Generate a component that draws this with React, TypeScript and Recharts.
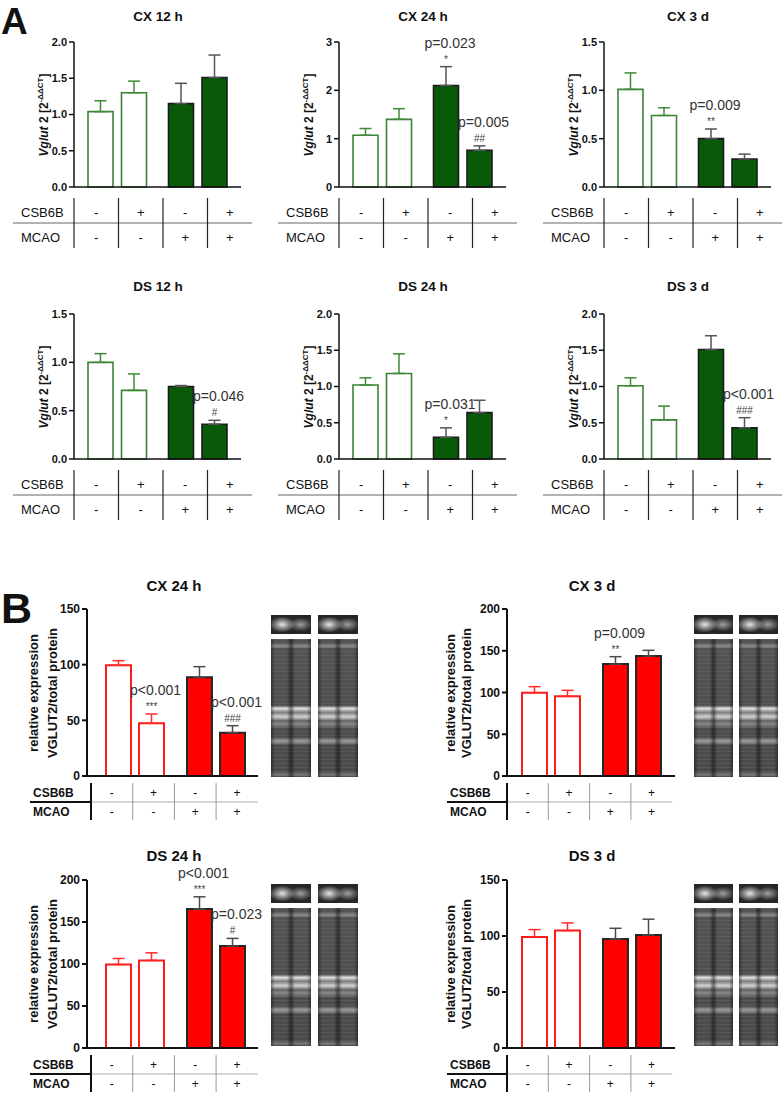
import React from "react";
import { BarChart, Bar, XAxis, YAxis, Cell, ErrorBar, LabelList } from "recharts";

const FONT = '"Liberation Sans", Arial, Helvetica, sans-serif';

// treatment table, in bar order
const csb6b = ["-", "+", "-", "+"];
const mcao = ["-", "-", "+", "+"];
const groups = ["sham", "MCAO"];

// A: Vglut2 mRNA [2^-ddCT], mean and SEM
const cx12Mean = [1.04, 1.3, 1.15, 1.51];
const cx12Sem = [0.15, 0.16, 0.28, 0.31];
const cx24Mean = [1.07, 1.4, 2.1, 0.76];
const cx24Sem = [0.14, 0.22, 0.39, 0.09];
const cx3dMean = [1.01, 0.74, 0.5, 0.29];
const cx3dSem = [0.17, 0.08, 0.1, 0.05];
const ds12Mean = [1.0, 0.71, 0.75, 0.36];
const ds12Sem = [0.09, 0.17, 0.01, 0.04];
const ds24Mean = [1.02, 1.18, 0.3, 0.64];
const ds24Sem = [0.1, 0.27, 0.13, 0.17];
const ds3dMean = [1.01, 0.54, 1.51, 0.43];
const ds3dSem = [0.11, 0.19, 0.19, 0.14];

// B: VGLUT2 / total protein, relative expression
const wbCx24Mean = [99.4, 47.3, 88.7, 38.9];
const wbCx24Sem = [4.2, 8.4, 9.5, 6.3];
const wbCx3dMean = [99.8, 95.4, 134, 143.7];
const wbCx3dSem = [7.2, 7.2, 8.9, 6.8];
const wbDs24Mean = [99.4, 104.2, 165.4, 121.3];
const wbDs24Sem = [7.2, 9.1, 14.6, 9.2];
const wbDs3dMean = [99.2, 104.8, 97.4, 101];
const wbDs3dSem = [6.5, 6.9, 9.5, 14];

// p values and marks
const noP = ["", "", "", ""];
const cx24P = ["", "", "p=0.023", "p=0.005"];
const cx24Sig = ["", "", "*", "##"];
const cx3dP = ["", "", "p=0.009", ""];
const cx3dSig = ["", "", "**", ""];
const ds12P = ["", "", "", "p=0.046"];
const ds12Sig = ["", "", "", "#"];
const ds24P = ["", "", "p=0.031", ""];
const ds24Sig = ["", "", "*", ""];
const ds3dP = ["", "", "", "p<0.001"];
const ds3dSig = ["", "", "", "###"];
const wbCx24P = ["", "p<0.001", "", "p<0.001"];
const wbCx24Sig = ["", "***", "", "###"];
const wbCx3dP = ["", "", "p=0.009", ""];
const wbCx3dSig = ["", "", "**", ""];
const wbDs24P = ["", "", "p<0.001", "p=0.023"];
const wbDs24Sig = ["", "", "***", "#"];

const ticksA15 = [0, 0.5, 1, 1.5];
const ticksA20 = [0, 0.5, 1, 1.5, 2];
const ticksA3 = [0, 1, 2, 3];
const ticksB150 = [0, 50, 100, 150];
const ticksB200 = [0, 50, 100, 150, 200];

const green = { open: "#3a8434", fill: "#085a08", edge: "#1c1c1c", errOpen: "#3f8a37", errFill: "#555", sw: 1.6, axis: 1.5 };
const red = { open: "#ff1a1a", fill: "#ff0000", edge: "#262626", errOpen: "#ff2a2a", errFill: "#4a4a4a", sw: 2, axis: 2 };

function makeRows(mean: number[], sem: number[]) {
  return groups.map((g, gi) => {
    const a = gi * 2;
    const b = gi * 2 + 1;
    const open = gi === 0;
    return {
      group: g,
      veh: mean[a],
      csb: mean[b],
      vehErrOpen: open ? [0, sem[a]] : null,
      vehErrFill: open ? null : [0, sem[a]],
      csbErrOpen: open ? [0, sem[b]] : null,
      csbErrFill: open ? null : [0, sem[b]],
    };
  });
}

function makeNote(k: number, mean: number[], sem: number[], pText: string[], sig: string[]) {
  return (props: any) => {
    const vb = props.viewBox && props.viewBox.height != null ? props.viewBox : props;
    const { x, y, width, height } = vb;
    const i = props.index * 2 + k;
    if (!pText[i] && !sig[i]) return null;
    const top = y - sem[i] * (height / mean[i]);
    const cx = x + width / 2;
    return (
      <g>
        <text x={cx + 4} y={top - 19} textAnchor="middle" fontSize={14} fill="#333" fontFamily={FONT}>
          {pText[i]}
        </text>
        <text x={cx} y={top - 4} textAnchor="middle" fontSize={10} fill="#444" fontFamily={FONT}>
          {sig[i]}
        </text>
      </g>
    );
  };
}

function MiniBar(props: any) {
  const { x0, yTop, yBottom, xLen, padL, padR, barSize, barGap, max, ticks, dec, mean, sem, pText, sig, theme, tickFont } = props;
  const LW = 40;
  const MT = 45;
  const MR = 34;
  const MB = 10;
  const XH = 2;
  const plotH = yBottom - yTop;
  const rows = makeRows(mean, sem);
  const axisStyle = { stroke: "#111", strokeWidth: theme.axis };
  return (
    <div style={{ position: "absolute", left: x0 - LW, top: yTop - MT }}>
      <BarChart
        width={LW + xLen + MR}
        height={MT + plotH + XH + MB}
        data={rows}
        margin={{ top: MT, right: MR, left: 0, bottom: MB }}
        barSize={barSize}
        barGap={barGap}
      >
        <XAxis dataKey="group" tick={false} tickLine={false} height={XH} padding={{ left: padL, right: padR }} axisLine={axisStyle} />
        <YAxis
          width={LW}
          domain={[0, max]}
          ticks={ticks}
          interval={0}
          tickSize={5}
          tickMargin={2}
          axisLine={axisStyle}
          tickLine={axisStyle}
          tickFormatter={(v: number) => v.toFixed(dec)}
          tick={{ fill: "#111", fontSize: tickFont, fontWeight: "bold", fontFamily: FONT }}
        />
        {["veh", "csb"].map((key, k) => (
          <Bar key={key} dataKey={key} isAnimationActive={false}>
            {rows.map((r, gi) => (
              <Cell
                key={gi}
                fill={gi === 0 ? "#ffffff" : theme.fill}
                stroke={gi === 0 ? theme.open : theme.edge}
                strokeWidth={theme.sw}
              />
            ))}
            <ErrorBar dataKey={`${key}ErrOpen`} direction="y" width={6} stroke={theme.errOpen} strokeWidth={1.5} isAnimationActive={false} />
            <ErrorBar dataKey={`${key}ErrFill`} direction="y" width={6} stroke={theme.errFill} strokeWidth={1.5} isAnimationActive={false} />
            <LabelList dataKey={key} content={makeNote(k, mean, sem, pText, sig)} />
          </Bar>
        ))}
      </BarChart>
    </div>
  );
}

function TableA({ x0, yb }: { x0: number; yb: number }) {
  const colW = 44.5;
  return (
    <g fontFamily={FONT} fontSize={13} fill="#111">
      <line x1={x0 - 61} x2={x0 + 178} y1={yb + 36} y2={yb + 36} stroke="#666" strokeWidth={1} />
      {[0, 1, 2, 3].map((i) => (
        <line key={i} x1={x0 + i * colW} x2={x0 + i * colW} y1={yb + 11} y2={yb + 61} stroke="#222" strokeWidth={1.2} />
      ))}
      <text x={x0 - 53} y={yb + 25} dominantBaseline="central">CSB6B</text>
      <text x={x0 - 53} y={yb + 50} dominantBaseline="central">MCAO</text>
      {csb6b.map((s, i) => (
        <text key={"c" + i} x={x0 + colW * (i + 0.5)} y={yb + 25} textAnchor="middle" dominantBaseline="central">{s}</text>
      ))}
      {mcao.map((s, i) => (
        <text key={"m" + i} x={x0 + colW * (i + 0.5)} y={yb + 50} textAnchor="middle" dominantBaseline="central">{s}</text>
      ))}
    </g>
  );
}

function TableB({ tx, colW, labelX, yb }: { tx: number; colW: number; labelX: number; yb: number }) {
  return (
    <g fontFamily={FONT} fill="#111">
      <line x1={tx} x2={tx + 4 * colW} y1={yb + 26} y2={yb + 26} stroke="#aaa" strokeWidth={1} />
      <line x1={labelX - 3} x2={tx} y1={yb + 26} y2={yb + 26} stroke="#111" strokeWidth={2} />
      {[1, 2, 3].map((i) => (
        <line key={i} x1={tx + i * colW} x2={tx + i * colW} y1={yb + 7} y2={yb + 44} stroke="#999" strokeWidth={1} />
      ))}
      <line x1={tx} x2={tx} y1={yb + 7} y2={yb + 44} stroke="#111" strokeWidth={2} />
      <text x={labelX} y={yb + 17} dominantBaseline="central" fontSize={12} fontWeight="bold">CSB6B</text>
      <text x={labelX} y={yb + 36} dominantBaseline="central" fontSize={12} fontWeight="bold">MCAO</text>
      {csb6b.map((s, i) => (
        <text key={"c" + i} x={tx + colW * (i + 0.5)} y={yb + 17} textAnchor="middle" dominantBaseline="central" fontSize={12}>{s}</text>
      ))}
      {mcao.map((s, i) => (
        <text key={"m" + i} x={tx + colW * (i + 0.5)} y={yb + 36} textAnchor="middle" dominantBaseline="central" fontSize={12}>{s}</text>
      ))}
    </g>
  );
}

// blot images, drawn as plain styled boxes
const laneBg = [
  "linear-gradient(90deg, rgba(0,0,0,0.4) 0%, rgba(0,0,0,0) 10%, rgba(0,0,0,0) 40%, rgba(0,0,0,0.45) 50%, rgba(0,0,0,0) 60%, rgba(0,0,0,0) 90%, rgba(0,0,0,0.4) 100%)",
  "linear-gradient(180deg, rgba(255,255,255,0) 3%, rgba(255,255,255,0.35) 5%, rgba(255,255,255,0) 7%, rgba(255,255,255,0) 48%, rgba(255,255,255,0.85) 50.5%, rgba(255,255,255,0.25) 53%, rgba(255,255,255,0.75) 56.5%, rgba(255,255,255,0.15) 59%, rgba(255,255,255,0.3) 62%, rgba(255,255,255,0) 65%, rgba(255,255,255,0) 71%, rgba(255,255,255,0.45) 74%, rgba(255,255,255,0) 77%, rgba(255,255,255,0) 96%, rgba(255,255,255,0.25) 98%, rgba(255,255,255,0) 100%)",
  "repeating-linear-gradient(180deg, rgba(255,255,255,0.07) 0px, rgba(255,255,255,0.07) 1px, rgba(255,255,255,0) 1px, rgba(255,255,255,0) 4px)",
  "linear-gradient(180deg, #545454 0%, #4a4a4a 100%)",
].join(",");

const bandBg = [
  "radial-gradient(ellipse 13px 8px at 28% 50%, rgba(240,240,240,0.95), rgba(240,240,240,0))",
  "radial-gradient(ellipse 12px 7px at 74% 50%, rgba(200,200,200,0.75), rgba(200,200,200,0))",
  "#262626",
].join(",");

function Gel({ x, w, gap, top, lane, bottom }: any) {
  const boxes = [x, x + w + gap];
  return (
    <>
      {boxes.map((bx, i) => (
        <React.Fragment key={i}>
          <div style={{ position: "absolute", left: bx, top, width: w, height: lane - top - 5, background: bandBg }} />
          <div style={{ position: "absolute", left: bx, top: lane, width: w, height: bottom - lane, background: laneBg }} />
        </React.Fragment>
      ))}
    </>
  );
}

const aCols = [74, 339, 604];
const aRows = [
  { yTop: 42, yBottom: 187, titleY: 17 },
  { yTop: 314, yBottom: 459, titleY: 287 },
];
const aCharts = [
  { title: "CX 12 h", r: 0, c: 0, mean: cx12Mean, sem: cx12Sem, max: 2, ticks: ticksA20, dec: 1, pText: noP, sig: noP },
  { title: "CX 24 h", r: 0, c: 1, mean: cx24Mean, sem: cx24Sem, max: 3, ticks: ticksA3, dec: 0, pText: cx24P, sig: cx24Sig },
  { title: "CX 3 d", r: 0, c: 2, mean: cx3dMean, sem: cx3dSem, max: 1.5, ticks: ticksA15, dec: 1, pText: cx3dP, sig: cx3dSig },
  { title: "DS 12 h", r: 1, c: 0, mean: ds12Mean, sem: ds12Sem, max: 1.5, ticks: ticksA15, dec: 1, pText: ds12P, sig: ds12Sig },
  { title: "DS 24 h", r: 1, c: 1, mean: ds24Mean, sem: ds24Sem, max: 2, ticks: ticksA20, dec: 1, pText: ds24P, sig: ds24Sig },
  { title: "DS 3 d", r: 1, c: 2, mean: ds3dMean, sem: ds3dSem, max: 2, ticks: ticksA20, dec: 1, pText: ds3dP, sig: ds3dSig },
];

const bCols = [
  { x0: 87, padL: 7, padR: 2, xLen: 171, tx: 91, colW: 41.7, labelX: 33, ylX: 43, ylGap: 19, titleX: 174, gelX: 271, gelW: 40, gelGap: 7 },
  { x0: 507, padL: 3, padR: 3, xLen: 168, tx: 507, colW: 41.3, labelX: 450, ylX: 458, ylGap: 15.5, titleX: 592, gelX: 694, gelW: 39, gelGap: 6 },
];
const bRows = [
  { yTop: 609, yBottom: 776, titleY: 585, gelTop: 615, gelLane: 639, gelBot: 777 },
  { yTop: 880, yBottom: 1048, titleY: 855, gelTop: 884, gelLane: 908, gelBot: 1046 },
];
const bCharts = [
  { title: "CX 24 h", r: 0, c: 0, mean: wbCx24Mean, sem: wbCx24Sem, max: 150, ticks: ticksB150, pText: wbCx24P, sig: wbCx24Sig },
  { title: "CX 3 d", r: 0, c: 1, mean: wbCx3dMean, sem: wbCx3dSem, max: 200, ticks: ticksB200, pText: wbCx3dP, sig: wbCx3dSig },
  { title: "DS 24 h", r: 1, c: 0, mean: wbDs24Mean, sem: wbDs24Sem, max: 200, ticks: ticksB200, pText: wbDs24P, sig: wbDs24Sig },
  { title: "DS 3 d", r: 1, c: 1, mean: wbDs3dMean, sem: wbDs3dSem, max: 150, ticks: ticksB150, pText: noP, sig: noP },
];

const centered = (x: number, y: number): React.CSSProperties => ({
  position: "absolute",
  left: x,
  top: y,
  transform: "translate(-50%, -50%)",
  whiteSpace: "nowrap",
  lineHeight: 1,
});

export default function App() {
  return (
    <div style={{ position: "absolute", left: 0, top: 0, width: 784, height: 1095, background: "#fff", fontFamily: FONT, color: "#111", overflow: "hidden" }}>
      <div style={{ position: "absolute", left: 1, top: 3, fontSize: 37, fontWeight: "bold", lineHeight: 1 }}>A</div>
      <div style={{ position: "absolute", left: 1, top: 587, fontSize: 43, fontWeight: "bold", lineHeight: 1 }}>B</div>

      {aCharts.map((ch) => {
        const x0 = aCols[ch.c];
        const row = aRows[ch.r];
        return (
          <React.Fragment key={"a" + ch.title}>
            <div style={{ ...centered(x0 + 84, row.titleY), fontSize: 13.5, fontWeight: "bold" }}>{ch.title}</div>
            <div
              style={{
                ...centered(x0 - 31, (row.yTop + row.yBottom) / 2),
                transform: "translate(-50%, -50%) rotate(-90deg)",
                fontSize: 12,
                fontWeight: "bold",
              }}
            >
              <i>Vglut</i> 2 [2<sup style={{ fontSize: 8 }}>-ΔΔCT</sup>]
            </div>
            <MiniBar
              x0={x0}
              yTop={row.yTop}
              yBottom={row.yBottom}
              xLen={167}
              padL={3}
              padR={3}
              barSize={25}
              barGap={8.5}
              max={ch.max}
              ticks={ch.ticks}
              dec={ch.dec}
              mean={ch.mean}
              sem={ch.sem}
              pText={ch.pText}
              sig={ch.sig}
              theme={green}
              tickFont={11}
            />
          </React.Fragment>
        );
      })}

      {bCharts.map((ch) => {
        const col = bCols[ch.c];
        const row = bRows[ch.r];
        return (
          <React.Fragment key={"b" + ch.title}>
            <div style={{ ...centered(col.titleX, row.titleY), fontSize: 15, fontWeight: "bold" }}>{ch.title}</div>
            <div
              style={{
                ...centered(col.ylX, (row.yTop + row.yBottom) / 2),
                transform: "translate(-50%, -50%) rotate(-90deg)",
                fontSize: 13,
                fontWeight: "bold",
                lineHeight: `${col.ylGap}px`,
                textAlign: "center",
              }}
            >
              <div>relative expression</div>
              <div>VGLUT2/total protein</div>
            </div>
            <MiniBar
              x0={col.x0}
              yTop={row.yTop}
              yBottom={row.yBottom}
              xLen={col.xLen}
              padL={col.padL}
              padR={col.padR}
              barSize={25}
              barGap={8}
              max={ch.max}
              ticks={ch.ticks}
              dec={0}
              mean={ch.mean}
              sem={ch.sem}
              pText={ch.pText}
              sig={ch.sig}
              theme={red}
              tickFont={12}
            />
            <Gel x={col.gelX} w={col.gelW} gap={col.gelGap} top={row.gelTop} lane={row.gelLane} bottom={row.gelBot} />
          </React.Fragment>
        );
      })}

      <svg width={784} height={1095} style={{ position: "absolute", left: 0, top: 0, pointerEvents: "none" }}>
        {aCharts.map((ch) => (
          <TableA key={"ta" + ch.title} x0={aCols[ch.c]} yb={aRows[ch.r].yBottom} />
        ))}
        {bCharts.map((ch) => (
          <TableB key={"tb" + ch.title} tx={bCols[ch.c].tx} colW={bCols[ch.c].colW} labelX={bCols[ch.c].labelX} yb={bRows[ch.r].yBottom} />
        ))}
      </svg>
    </div>
  );
}
